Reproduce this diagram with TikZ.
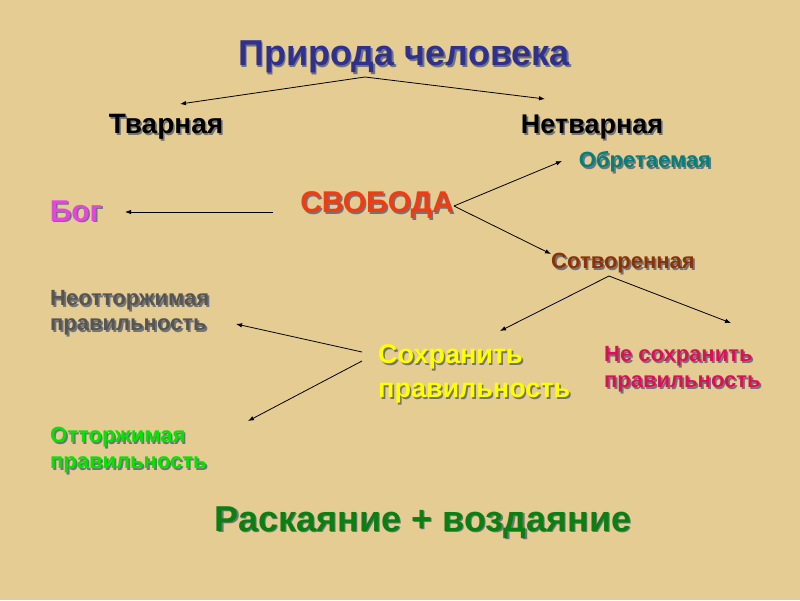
\documentclass[tikz,border=0pt]{standalone}
\usepackage{fontspec}
\setmainfont{Liberation Sans}
\usetikzlibrary{arrows.meta}
\definecolor{papyrus}{RGB}{228,204,146}
\definecolor{navy}{RGB}{46,49,146}
\definecolor{svred}{RGB}{240,60,20}
\definecolor{bogcol}{RGB}{226,70,226}
\definecolor{tealcol}{RGB}{0,128,128}
\definecolor{browncol}{RGB}{140,50,10}
\definecolor{graycol}{RGB}{85,85,85}
\definecolor{yelcol}{RGB}{255,255,0}
\definecolor{crimcol}{RGB}{220,16,90}
\definecolor{ltgreen}{RGB}{0,230,0}
\definecolor{dkgreen}{RGB}{10,128,20}
\newcommand{\shd}[1]{\leavevmode\rlap{\kern1.6pt\raisebox{-1.6pt}{\textcolor{black!55}{#1}}}#1}
\tikzstyle{word}=[inner sep=0pt,font=\bfseries]
\tikzstyle{arr} = [draw,line width=0.8pt,-{Latex[length=6pt,width=4.5pt]}]

\begin{document}
\begin{tikzpicture}[x=1pt,y=-1pt]
        \fill[papyrus] (0,0) rectangle (800,600);
        \useasboundingbox (0,0) rectangle (800,600);
        \node[word,text=navy,font=\bfseries\fontsize{36}{40}\selectfont] (title) at (404,58) {\shd{Природа человека}};
        \node[word,font=\bfseries\fontsize{28}{32}\selectfont] (tvar) at (166,128) {\shd{Тварная}};
        \node[word,font=\bfseries\fontsize{27}{32}\selectfont] (netvar) at (592,128) {\shd{Нетварная}};
        \node[word,text=bogcol,font=\bfseries\fontsize{30}{34}\selectfont] (bog) at (76,212) {\shd{Бог}};
        \node[word,text=svred,font=\bfseries\fontsize{30}{34}\selectfont] (svoboda) at (377,206) {\shd{СВОБОДА}};
        \node[word,text=tealcol,font=\bfseries\fontsize{22}{26}\selectfont] (obret) at (645,163) {\shd{Обретаемая}};
        \node[word,text=browncol,font=\bfseries\fontsize{22}{26}\selectfont] (sotvor) at (623,264) {\shd{Сотворенная}};
        \node[word,text=graycol,anchor=west,align=left,font=\bfseries\fontsize{22}{25}\selectfont] (neott) at (50,314) {\shd{Неотторжимая}\\\shd{правильность}};
        \node[word,text=yelcol,anchor=west,align=left,font=\bfseries\fontsize{27}{34}\selectfont] (sohr) at (378,375) {\shd{Сохранить}\\\shd{правильность}};
        \node[word,text=crimcol,anchor=west,align=left,font=\bfseries\fontsize{22}{26}\selectfont] (nesohr) at (604,370) {\shd{Не сохранить}\\\shd{правильность}};
        \node[word,text=ltgreen,anchor=west,align=left,font=\bfseries\fontsize{22}{26}\selectfont] (ott) at (50,451) {\shd{Отторжимая}\\\shd{правильность}};
        \node[word,text=dkgreen,font=\bfseries\fontsize{36}{40}\selectfont] (raskay) at (423,523) {\shd{Раскаяние + воздаяние}};
        % arrow tips
        \coordinate (apex) at (365,77);
        \coordinate (tvarTip) at (180,104);
        \coordinate (netvarTip) at (545,99);
        \coordinate (bogTip) at (125,212);
        \coordinate (svLeft) at (273,212);
        \coordinate (obretTip) at (562,161);
        \coordinate (sotvorTip) at (551,254);
        \coordinate (sotApex) at (609,276);
        \coordinate (sohrTip) at (500,331);
        \coordinate (nesohrTip) at (731,323);
        \coordinate (neottTip) at (236,324);
        \coordinate (ottTip) at (248,421);
        \draw[arr] (apex) to (tvarTip);
        \draw[arr] (apex) to (netvarTip);
        \draw[arr] (svLeft) to (bogTip);
        \draw[arr] (svoboda.east) to (obretTip);
        \draw[arr] (svoboda.east) to (sotvorTip);
        \draw[arr] (sotApex) to (sohrTip);
        \draw[arr] (sotApex) to (nesohrTip);
        \draw[arr] ([xshift=-16pt,yshift=23pt]sohr.west) to (neottTip);
        \draw[arr] ([xshift=-16pt,yshift=14pt]sohr.west) to (ottTip);
      \end{tikzpicture}
\end{document}
